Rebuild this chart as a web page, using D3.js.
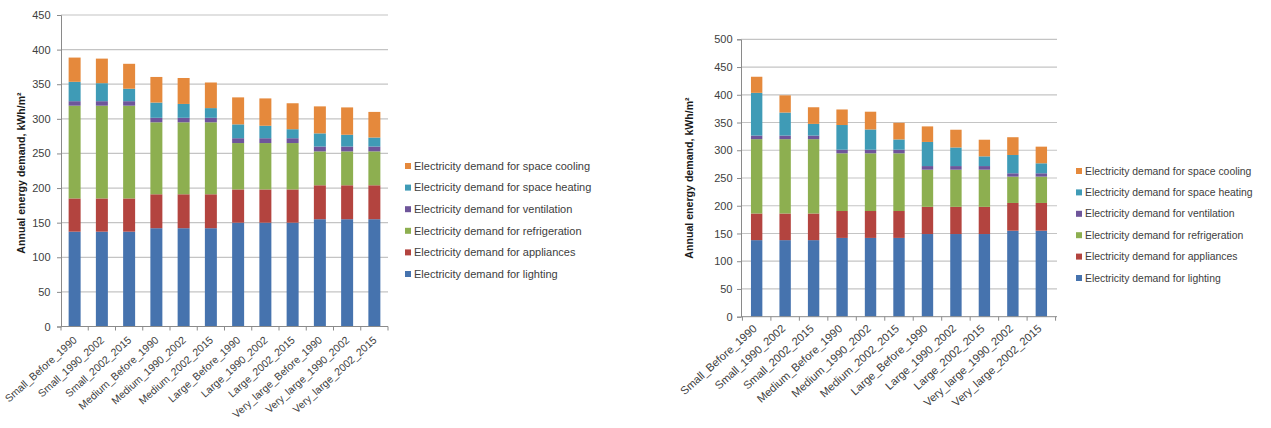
<!DOCTYPE html>
<html><head><meta charset="utf-8">
<script src="https://cdn.jsdelivr.net/npm/d3@7"></script>
<style>body{margin:0;background:#fff;} svg{display:block;font-family:"Liberation Sans",Arial,sans-serif;}</style>
</head><body>
<svg id="c" width="1271" height="428"></svg>
<script>
// ---- Data (left chart) ----
const catsA = ["Small_Before_1990","Small_1990_2002","Small_2002_2015","Medium_Before_1990","Medium_1990_2002","Medium_2002_2015","Large_Before_1990","Large_1990_2002","Large_2002_2015","Very_large_Before_1990","Very_large_1990_2002","Very_large_2002_2015"];
const lightingA      = [137,137,137,142,142,142,150,150,150,155,155,155];
const appliancesA    = [48,48,48,49,49,49,48,48,48,49,49,49];
const refrigerationA = [134,134,134,104,104,104,67,67,67,49,49,49];
const ventilationA   = [6.5,6.5,6.5,6.5,6.5,6.5,7,7,7,7,7,7];
const heatingA       = [28,26,18,22,20,14,20,18,13,19,17,13];
const coolingA       = [35,35.5,36,37,37.5,37,39,39.5,37.5,39,39.5,37];
const ticksA = [0,50,100,150,200,250,300,350,400,450];

// ---- Data (right chart) ----
const catsB = ["Small_Before_1990","Small_1990_2002","Small_2002_2015","Medium_Before_1990","Medium_1990_2002","Medium_2002_2015","Large_Before_1990","Large_1990_2002","Large_2002_2015","Very_large_1990_2002","Very_large_2002_2015"];
const lightingB      = [138,138,138,142,142,142,149,149,149,155,155];
const appliancesB    = [48,48,48,48.5,48.5,48.5,49,49,49,50,50];
const refrigerationB = [134,134,134,104,104,104,67,67,67,47.5,47.5];
const ventilationB   = [6.5,6.5,6.5,6.5,6.5,6.5,6.5,6.5,6.5,6,6];
const heatingB       = [77,41.5,21,44.5,36.5,18.5,43.5,33.5,17.5,33,18];
const coolingB       = [29,31,30,28,32,30,28,32,30,32,30];
const ticksB = [0,50,100,150,200,250,300,350,400,450,500];

const seriesNames = ["Electricity demand for lighting","Electricity demand for appliances","Electricity demand for refrigeration","Electricity demand for ventilation","Electricity demand for space heating","Electricity demand for space cooling"];
const colors = ["#4673AE","#B3443F","#8DAF50","#6E559A","#3F9BB6","#E5893C"];
const yTitle = "Annual energy demand, kWh/m\u00B2";

const svg = d3.select("#c");

function chart(o){
  const {cats, series, ticks, x0, x1, yBot, yTop, max, pi, po, labFont, labDx, labDy, legX, legY, legStep, legFont, titleX, titleY, tickPad} = o;
  const g = svg.append("g");
  const x = d3.scaleBand().domain(cats).range([x0,x1]).paddingInner(pi).paddingOuter(po);
  const y = d3.scaleLinear().domain([0,max]).range([yBot,yTop]);
  // gridlines
  g.selectAll("line.grid").data(ticks.filter(t=>t>0)).join("line")
    .attr("x1",x0).attr("x2",x1).attr("y1",d=>y(d)).attr("y2",d=>y(d))
    .attr("stroke","#c4c4c4").attr("stroke-width",1.2);
  // stacked bars
  const rows = cats.map((c,i)=>{const r={cat:c}; series.forEach((s,k)=>r[k]=s[i]); return r;});
  const stack = d3.stack().keys(series.map((s,k)=>k))(rows);
  stack.forEach((layer,k)=>{
    g.selectAll(null).data(layer).join("rect")
      .attr("x",d=>x(d.data.cat)).attr("width",x.bandwidth())
      .attr("y",d=>y(d[1])).attr("height",d=>y(d[0])-y(d[1]))
      .attr("fill",colors[k]);
  });
  // y axis
  const ya = d3.axisLeft(y).tickValues(ticks).tickSize(4).tickPadding(tickPad);
  const yg = g.append("g").attr("transform",`translate(${x0},0)`).call(ya);
  yg.select(".domain").attr("stroke","#8a8a8a");
  yg.selectAll(".tick line").attr("stroke","#8a8a8a");
  yg.selectAll(".tick text").attr("fill","#404040").style("font-size","11px").style("font-family","'Liberation Sans',Arial,sans-serif");
  // x axis line
  g.append("line").attr("x1",x0).attr("x2",x1).attr("y1",yBot).attr("y2",yBot).attr("stroke","#8a8a8a");
  const step = x.step();
  const bounds = cats.map(c=>x(c)-step*pi/2).concat([x(cats[cats.length-1])+x.bandwidth()+step*pi/2]);
  g.selectAll(null).data(bounds).join("line")
    .attr("x1",d=>d).attr("x2",d=>d).attr("y1",yBot).attr("y2",yBot+4).attr("stroke","#8a8a8a");
  // x labels
  g.selectAll(null).data(cats).join("text")
    .attr("transform",d=>`translate(${x(d)+x.bandwidth()/2+labDx},${yBot+labDy}) rotate(-42)`)
    .attr("text-anchor","end")
    .attr("fill","#404040").style("font-size",labFont+"px").text(d=>d);
  // y title
  g.append("text").attr("transform",`translate(${titleX},${titleY}) rotate(-90)`)
    .attr("text-anchor","middle").attr("dy","0.35em").attr("font-weight","bold")
    .attr("fill","#1a1a1a").style("font-size","10.6px").text(yTitle);
  // legend (reverse order)
  const legOrder = d3.range(series.length).reverse();
  const lg = g.selectAll(null).data(legOrder).join("g")
    .attr("transform",(d,i)=>`translate(${legX},${legY+i*legStep})`);
  lg.append("rect").attr("x",0).attr("y",-3).attr("width",6).attr("height",6).attr("fill",d=>colors[d]);
  lg.append("text").attr("x",9).attr("dy","0.35em").attr("fill","#404040")
    .style("font-size",legFont+"px").text(d=>seriesNames[d]);
}

chart({cats:catsA, series:[lightingA,appliancesA,refrigerationA,ventilationA,heatingA,coolingA], ticks:ticksA,
  x0:61, x1:388, yBot:326.5, yTop:15, max:450, pi:0.56, po:0.28, labFont:10.5, labDx:3, labDy:14.5,
  legX:405, legY:166, legStep:21.6, legFont:11, titleX:21, titleY:173, tickPad:6.5});
chart({cats:catsB, series:[lightingB,appliancesB,refrigerationB,ventilationB,heatingB,coolingB], ticks:ticksB,
  x0:741, x1:1057, yBot:316.7, yTop:39.3, max:500, pi:0.6, po:0.35, labFont:11.2, labDx:1, labDy:13,
  legX:1076, legY:171, legStep:21.4, legFont:10.4, titleX:689, titleY:178, tickPad:4.5});
</script>
</body></html>
